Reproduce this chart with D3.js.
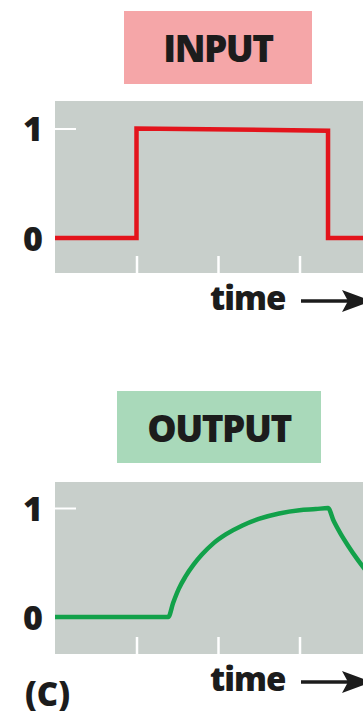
<!DOCTYPE html>
<html>
<head>
<meta charset="utf-8">
<script src="https://cdn.jsdelivr.net/npm/d3@7"></script>
<style>
  body { margin: 0; background: #fff; }
  svg text { font-family: "Open Sans", "Noto Sans", sans-serif; font-weight: 800; fill: #1c1c1c; }
</style>
</head>
<body>
<svg id="chart" width="363" height="717"></svg>
<script>
// valeurs (temps en unités de graduation)
const timeTicks = [1, 2, 3]
const levelTicks = [0, 1]

const inputTime = [0, 1, 1, 3.35, 3.35, 3.8]
const inputValue = [0, 0, 1, 0.98, 0, 0]

const outputTime = [0, 1.39, 1.45, 1.52, 1.6, 1.7, 1.8, 1.95, 2.1, 2.3, 2.5, 2.75, 3.0, 3.2, 3.35, 3.42, 3.5, 3.6, 3.7, 3.8]
const outputValue = [0, 0, 0.13, 0.26, 0.37, 0.48, 0.57, 0.68, 0.76, 0.84, 0.9, 0.95, 0.98, 0.99, 1.0, 0.88, 0.77, 0.65, 0.54, 0.44]

const panels = [
  {title: "INPUT", box: "#f5a6a8", line: "#e3141c", time: inputTime, value: inputValue,
   boxX: 124, boxY: 11, boxW: 188, boxH: 73, top: 101, y1: 128.5, y0: 238, bottom: 273, curve: d3.curveLinear},
  {title: "OUTPUT", box: "#a9d9ba", line: "#12a14a", time: outputTime, value: outputValue,
   boxX: 117, boxY: 391, boxW: 204, boxH: 72, top: 482, y1: 508, y0: 617, bottom: 654, curve: d3.curveMonotoneX}
]

const svg = d3.select("#chart")

const x = d3.scaleLinear()
            .domain([0, 3.8])
            .range([55, 55 + 3.8 * 81.5])

panels.forEach(p => {
    const y = d3.scaleLinear().domain([0, 1]).range([p.y0, p.y1])
    const g = svg.append("g")

    // étiquette du panneau
    g.append("rect")
     .attr("x", p.boxX).attr("y", p.boxY)
     .attr("width", p.boxW).attr("height", p.boxH)
     .attr("fill", p.box)
    g.append("text")
     .attr("x", p.boxX + p.boxW / 2)
     .attr("y", p.boxY + 51)
     .attr("text-anchor", "middle")
     .attr("font-size", 37)
     .attr("letter-spacing", -1.5)
     .text(p.title)

    // fond gris
    g.append("rect")
     .attr("x", 55).attr("y", p.top)
     .attr("width", 320).attr("height", p.bottom - p.top)
     .attr("fill", "#c8cfcb")

    // axe Y
    const yAxis = g.append("g")
                   .attr("transform", "translate(55,0)")
                   .call(d3.axisLeft(y).tickValues(levelTicks).tickSize(-21).tickPadding(12).tickFormat(d3.format("d")))
    yAxis.select(".domain").remove()
    yAxis.selectAll("line").attr("stroke", "#fff").attr("stroke-width", 2)
    yAxis.selectAll("text")
         .attr("font-size", 34)
         .attr("fill", "#1c1c1c")
         .attr("dy", "0.36em")
         .style("font-family", "'Open Sans', sans-serif")
         .style("font-weight", 800)

    // axe X
    const xAxis = g.append("g")
                   .attr("transform", `translate(0,${p.bottom})`)
                   .call(d3.axisBottom(x).tickValues(timeTicks).tickSize(-17).tickFormat(""))
    xAxis.select(".domain").remove()
    xAxis.selectAll("line").attr("stroke", "#fff").attr("stroke-width", 2.5)

    // courbe
    const pts = p.time.map((t, i) => [t, p.value[i]])
    g.append("path")
     .datum(pts)
     .attr("fill", "none")
     .attr("stroke", p.line)
     .attr("stroke-width", 4.5)
     .attr("stroke-linejoin", "miter")
     .attr("d", d3.line().x(d => x(d[0])).y(d => y(d[1])).curve(p.curve))

    // time ->
    const ty = p.bottom + 37
    g.append("text")
     .attr("x", 210).attr("y", ty)
     .attr("font-size", 33)
     .attr("letter-spacing", -1)
     .text("time")
    const ay = p.bottom + 28
    g.append("line")
     .attr("x1", 301).attr("x2", 350)
     .attr("y1", ay).attr("y2", ay)
     .attr("stroke", "#1c1c1c").attr("stroke-width", 3.5)
    g.append("path")
     .attr("d", `M342,${ay - 11} L372,${ay} L342,${ay + 11} L348,${ay} Z`)
     .attr("fill", "#1c1c1c")
})

svg.append("text")
   .attr("x", 25).attr("y", 706)
   .attr("font-size", 33)
   .text("(C)")
</script>
</body>
</html>
